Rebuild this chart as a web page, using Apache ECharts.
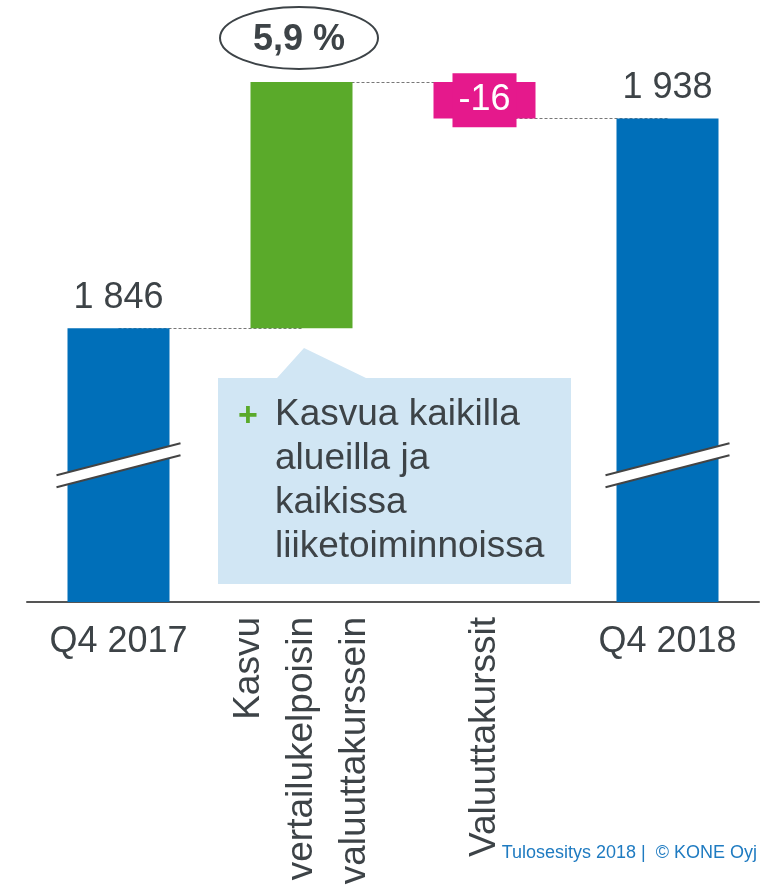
<!DOCTYPE html>
<html lang="fi">
<head>
<meta charset="utf-8" />
<title>Tilauskanta Q4</title>
<style>
  html, body { margin: 0; padding: 0; background: #fff; }
  #chart { width: 768px; height: 889px; }
</style>
</head>
<body>
<div id="chart"></div>
<script src="https://cdn.jsdelivr.net/npm/echarts@6/dist/echarts.min.js"></script>
<script>
// ---- data ----
const categories = ['Q4 2017', 'Kasvu\nvertailukelpoisin\nvaluuttakurssein', 'Valuuttakurssit', 'Q4 2018'];
const values = [1846, 108, -16, 1938];
const isTotal = [true, false, false, true];
const growthText = '5,9 %';
const calloutLines = ['Kasvua kaikilla', 'alueilla ja', 'kaikissa', 'liiketoiminnoissa'];
const footerText = 'Tulosesitys 2018 |  \u00a9 KONE Oyj';
const axisMin = 1726;
const axisMax = 1990;
const breakValue = 1786;

const FONT = '"Liberation Sans", Arial, sans-serif';
const TEXT = '#3d4347';
const colors = ['#006fb9', '#5aaa2a', '#e5198c', '#006fb9'];

// waterfall: transparent base + visible part
const base = [], height = [], after = [];
let run = 0;
values.forEach(function (v, i) {
  if (isTotal[i]) { base.push(0); height.push(v); run = v; }
  else if (v >= 0) { base.push(run); height.push(v); run += v; }
  else { run += v; base.push(run); height.push(-v); }
  after.push(run);
});

function fmt(n) {
  return String(n).replace(/\B(?=(\d{3})+(?!\d))/g, ' ');
}

// dashed lines between neighbouring bars
const connectors = [];
for (let i = 0; i < values.length - 1; i++) {
  connectors.push([{ coord: [i, after[i]] }, { coord: [i + 1, after[i]] }]);
}

const barData = height.map(function (h, i) {
  let label = { show: false };
  if (isTotal[i]) {
    label = { show: true, position: 'top', distance: 12, formatter: fmt(values[i]),
      color: TEXT, fontSize: 36, fontFamily: FONT };
  } else if (values[i] < 0) {
    label = { show: true, position: 'inside', formatter: fmt(values[i]),
      color: '#fff', fontSize: 36, fontFamily: FONT, lineHeight: 36,
      backgroundColor: colors[i], padding: [9, 6] };
  }
  return { value: h, itemStyle: { color: colors[i] }, label: label };
});

const breakData = [];
isTotal.forEach(function (t, i) { if (t) breakData.push([i, breakValue]); });

const chart = echarts.init(document.getElementById('chart'));

const labelBase = { interval: 0, color: TEXT, fontFamily: FONT };

chart.setOption({
  animation: false,
  grid: { left: 27, right: 9, top: 0, bottom: 287, outerBoundsMode: 'none', containLabel: false },
  xAxis: [
    {
      type: 'category', data: categories,
      axisLine: { show: true, lineStyle: { color: '#555', width: 2 } },
      axisTick: { show: false },
      axisLabel: Object.assign({}, labelBase, {
        fontSize: 36, margin: 22,
        formatter: function (v, i) { return isTotal[i] ? v : ''; }
      })
    },
    {
      type: 'category', data: categories, position: 'bottom',
      axisLine: { show: false }, axisTick: { show: false },
      axisLabel: Object.assign({}, labelBase, {
        fontSize: 37, margin: 15, rotate: 90, lineHeight: 53,
        formatter: function (v, i) { return isTotal[i] ? '' : v; }
      })
    }
  ],
  yAxis: { type: 'value', min: axisMin, max: axisMax, show: false, splitLine: { show: false } },
  series: [
    {
      name: 'base', type: 'bar', stack: 'w', barWidth: 102, z: 1,
      itemStyle: { color: 'transparent' },
      data: base,
      markLine: {
        silent: true, symbol: 'none', z: 1, label: { show: false },
        lineStyle: { color: '#777', type: [3, 2], width: 1 },
        data: connectors
      }
    },
    {
      name: 'change', type: 'bar', stack: 'w', barWidth: 102, z: 3,
      data: barData
    },
    {
      name: 'break', type: 'custom', z: 5, clip: false,
      encode: { x: 0, y: 1 },
      data: breakData,
      renderItem: function (params, api) {
        const p = api.coord([api.value(0), api.value(1)]);
        const hw = 62, gap = 6, rise = 16;
        const x1 = p[0] - hw, x2 = p[0] + hw;
        return {
          type: 'group',
          children: [
            { type: 'polygon', shape: { points: [[x1, p[1] - gap + rise], [x2, p[1] - gap - rise], [x2, p[1] + gap - rise], [x1, p[1] + gap + rise]] },
              style: { fill: '#fff' } },
            { type: 'line', shape: { x1: x1, y1: p[1] - gap + rise, x2: x2, y2: p[1] - gap - rise },
              style: { stroke: '#444', lineWidth: 2 } },
            { type: 'line', shape: { x1: x1, y1: p[1] + gap + rise, x2: x2, y2: p[1] + gap - rise },
              style: { stroke: '#444', lineWidth: 2 } }
          ]
        };
      }
    }
  ],
  graphic: [
    { type: 'ellipse', shape: { cx: 299, cy: 38, rx: 79, ry: 31 },
      style: { fill: '#fff', stroke: TEXT, lineWidth: 2 } },
    { type: 'text', x: 299, y: 40,
      style: { text: growthText, font: 'bold 36px ' + FONT, fill: TEXT, align: 'center', verticalAlign: 'middle' } },
    // callout box
    { type: 'polygon',
      shape: { points: [[218, 378], [277, 378], [304, 348], [366, 378], [571, 378], [571, 584], [218, 584]] },
      style: { fill: '#d1e6f4' } },
    { type: 'text', x: 248, y: 417,
      style: { text: '+', font: 'bold 34px ' + FONT, fill: '#5aaa2a', align: 'center', verticalAlign: 'middle' } },
    { type: 'text', x: 275, y: 393,
      style: { text: calloutLines.join('\n'), font: '37px ' + FONT, lineHeight: 44, fill: TEXT, align: 'left', verticalAlign: 'top' } },
    { type: 'text', x: 757, y: 853.5,
      style: { text: footerText, font: '18px ' + FONT, fill: '#1f7bc1', align: 'right', verticalAlign: 'middle' } }
  ]
});

window.onresize = function () { chart.resize(); };
</script>
</body>
</html>
